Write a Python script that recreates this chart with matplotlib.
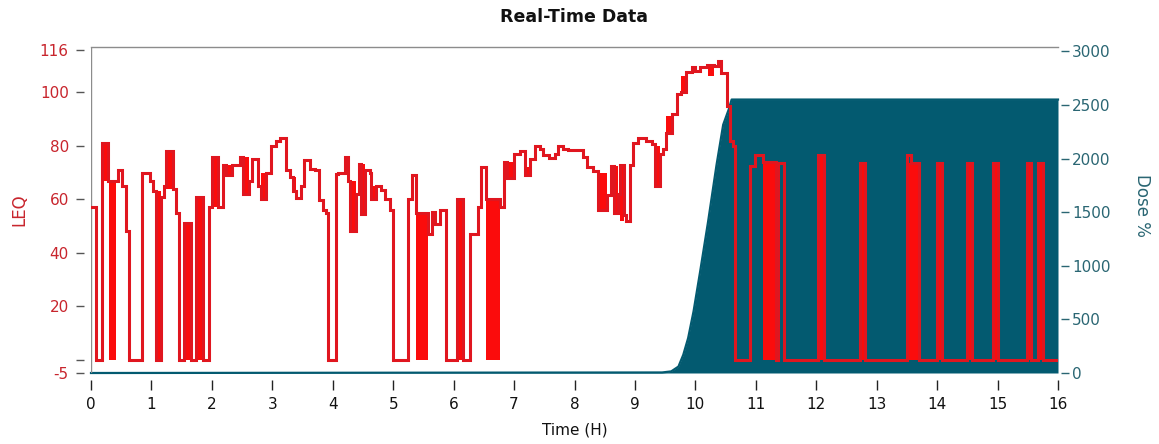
import matplotlib
matplotlib.use("Agg")
import matplotlib.pyplot as plt

# ---------------- data ----------------
title = "Real-Time Data"
x_label = "Time (H)"
left_label = "LEQ"
right_label = "Dose %"

x_ticks = list(range(0, 17))
left_ticks = [-5, 0, 20, 40, 60, 80, 100, 116]
left_tick_labels = ["-5", "", "20", "40", "60", "80", "100", "116"]
right_ticks = [0, 500, 1000, 1500, 2000, 2500, 3000]

# LEQ step series (start time in hours, level)
leq_t = [0.00, 0.09, 0.18, 0.28, 0.44, 0.52, 0.58, 0.63, 0.85, 0.97, 1.02, 1.08, 1.15, 1.20,
         1.24, 1.36, 1.41, 1.46, 1.54, 1.65, 1.74, 1.85, 1.96, 2.00, 2.10, 2.18, 2.24, 2.34,
         2.46, 2.51, 2.62, 2.67, 2.76, 2.81, 2.90, 2.98, 3.06, 3.12, 3.23, 3.29, 3.34, 3.40,
         3.48, 3.53, 3.62, 3.70, 3.78, 3.84, 3.89, 3.92, 4.06, 4.09, 4.20, 4.25, 4.28, 4.39,
         4.44, 4.47, 4.53, 4.61, 4.64, 4.72, 4.80, 4.86, 4.94, 4.99, 5.25, 5.31, 5.37, 5.58,
         5.64, 5.69, 5.77, 5.88, 6.05, 6.16, 6.27, 6.41, 6.46, 6.53, 6.77, 6.83, 6.89, 7.00,
         7.10, 7.18, 7.26, 7.34, 7.43, 7.48, 7.57, 7.68, 7.73, 7.81, 7.90, 8.14, 8.20, 8.31,
         8.39, 8.53, 8.61, 8.65, 8.72, 8.76, 8.82, 8.86, 8.92, 8.97, 9.05, 9.19, 9.28, 9.33,
         9.41, 9.47, 9.52, 9.61, 9.69, 9.77, 9.85, 9.94, 9.99, 10.08, 10.19, 10.30, 10.38,
         10.43, 10.52, 10.57, 10.62, 10.66, 10.90, 10.98, 11.12, 11.34, 11.37, 11.46, 12.03,
         12.12, 12.72, 12.80, 13.50, 13.56, 13.70, 14.00, 14.08, 14.49, 14.57, 14.93, 15.01,
         15.48, 15.56, 15.67, 15.76, 16.00]
leq_v = [57, 0, 81, 67, 71, 65, 48, 0, 70, 67, 63, 0, 61, 65,
         78, 64, 55, 0, 51, 0, 61, 0, 57, 76, 57, 73, 69, 73,
         76, 62, 67, 75, 65, 60, 70, 80, 82, 83, 71, 68.5, 63, 60.5,
         65, 74.7, 71.5, 71, 59.8, 56, 55, 0, 69.5, 70, 75.7, 67, 48, 62,
         73.4, 54.5, 71, 70, 60, 65, 63.5, 60, 56, 0, 60, 69, 55, 47,
         55.4, 50.8, 56, 0, 60, 0, 47, 57, 72, 60, 57, 74, 68, 77,
         78, 69, 75, 80, 79, 76.6, 75.4, 77, 80, 79, 78.5, 76, 72, 70.5,
         56, 61.5, 72.3, 55, 62, 73, 54, 52, 72.8, 81, 82.8, 82, 80.7, 65,
         77, 79, 85, 91.8, 99.3, 100, 107.5, 109.4, 108, 109.4, 110.4, 110, 111.6,
         107.3, 95, 82, 80, 0, 72.4, 76.7, 74, 0, 73.6, 0, 76.7,
         0, 73.6, 0, 76.7, 73.6, 0, 73.6, 0, 73.6, 0, 73.6, 0,
         73.6, 0, 73.6, 0, 0]

# densely oscillating stretches (start, end, low, high)
band_t0 = [0.20, 0.30, 1.08, 1.24, 1.54, 1.74, 2.00, 2.24, 2.51, 2.81, 3.34, 4.28, 4.47, 4.64,
           5.37, 6.05, 6.53, 6.89, 7.18, 8.39, 8.65, 8.76, 9.33, 9.52, 9.77, 10.21, 11.12,
           12.03, 12.72, 13.53, 14.00, 14.49, 14.93, 15.48, 15.67]
band_t1 = [0.28, 0.41, 1.15, 1.36, 1.65, 1.85, 2.10, 2.34, 2.62, 2.90, 3.40, 4.39, 4.53, 4.72,
           5.58, 6.16, 6.77, 7.00, 7.26, 8.53, 8.72, 8.82, 9.41, 9.61, 9.85, 10.30, 11.34,
           12.12, 12.80, 13.70, 14.08, 14.57, 15.01, 15.56, 15.76]
band_lo = [67, 0, 0, 64, 0, 0, 57, 69, 62, 60, 63, 48, 54.5, 60,
           0, 0, 0, 68, 69, 56, 55, 52, 65, 85, 100, 106, 0,
           0, 0, 0, 0, 0, 0, 0, 0]
band_hi = [81, 67, 63, 78, 51, 61, 76, 73, 76, 70, 68.5, 67, 73.4, 65,
           55, 60, 60, 74, 72, 70, 72.3, 73, 80, 91.2, 106, 110.6, 74,
           76.7, 73.6, 73.6, 73.6, 73.6, 73.6, 73.6, 73.6]

# cumulative dose %
dose_t = [0.0, 9.45, 9.60, 9.72, 9.80, 9.88, 9.97, 10.08, 10.21, 10.35, 10.46, 10.55, 10.60, 16.0]
dose_v = [0, 5, 15, 60, 170, 325, 575, 950, 1410, 1940, 2315, 2455, 2550, 2550]

# ---------------- styling ----------------
RED = "#e0161f"
BRIGHT = "#fb0c0c"
TEAL = "#035a70"
LABEL_RED = "#c8252d"
LABEL_TEAL = "#2a6673"
GRAY = "#8c8c8c"

W, H = 1159, 444
fig = plt.figure(figsize=(W / 100, H / 100), dpi=100)
fig.patch.set_facecolor("white")

x0, x1, y_top, y_bot = 91, 1058, 47, 373
ax = fig.add_axes([x0 / W, 1 - y_bot / H, (x1 - x0) / W, (y_bot - y_top) / H])
ax2 = ax.twinx()
ax.set_zorder(ax2.get_zorder() + 1)
ax.patch.set_visible(False)

# dose (behind)
ax2.fill_between(dose_t, 0, dose_v, color=TEAL, lw=0)
ax2.plot(dose_t, dose_v, color=TEAL, lw=1.6, clip_on=False)
ax2.set_ylim(0, 3040)
ax2.set_xlim(0, 16)

# LEQ
for a, b, lo, hi in zip(band_t0, band_t1, band_lo, band_hi):
    ax.fill_between([a, b], [lo, lo], [hi, hi], color=BRIGHT, lw=0, zorder=2)
ax.step(leq_t, leq_v, where="post", color=RED, lw=2.2, zorder=3, solid_joinstyle="miter")
ax.set_xlim(0, 16)
ax.set_ylim(-5, 117)

# frame
for s in ["right", "bottom", "left"]:
    ax.spines[s].set_visible(False)
ax.spines["top"].set_color(GRAY)
ax.spines["top"].set_linewidth(1.0)
for s in ax2.spines.values():
    s.set_visible(False)
ax.axvline(0, color=GRAY, lw=1.0, zorder=1)

ax.spines["left"].set_position(("outward", 5))
ax.spines["bottom"].set_position(("outward", 5))
ax2.spines["right"].set_position(("outward", 2))

ax.set_xticks(x_ticks)
ax.set_xticklabels([str(t) for t in x_ticks])
ax.tick_params(axis="x", direction="out", length=7, width=1, color="#222222",
               labelsize=11, labelcolor="#111111", pad=5)
ax.set_yticks(left_ticks)
ax.set_yticklabels(left_tick_labels)
ax.tick_params(axis="y", direction="out", length=6, width=1, color="#555555",
               labelsize=11, labelcolor=LABEL_RED, pad=5)
ax2.set_yticks(right_ticks)
ax2.set_yticklabels([str(t) for t in right_ticks])
ax2.tick_params(axis="y", direction="out", length=6, width=1, color=LABEL_TEAL,
                labelsize=11, labelcolor=LABEL_TEAL, pad=2)

fig.text((x0 + x1) / 2 / W, 1 - 17 / H, title, ha="center", va="center",
         fontsize=12.5, fontweight="bold", color="#111111")
fig.text((x0 + x1) / 2 / W, 1 - 430 / H, x_label, ha="center", va="center",
         fontsize=11, color="#111111")
fig.text(19 / W, 1 - 210 / H, left_label, ha="center", va="center", rotation=90,
         fontsize=12, color=LABEL_RED)
fig.text(1142 / W, 1 - 205 / H, right_label, ha="center", va="center", rotation=270,
         fontsize=12, color=LABEL_TEAL)

fig.savefig("out.png", dpi=100)
